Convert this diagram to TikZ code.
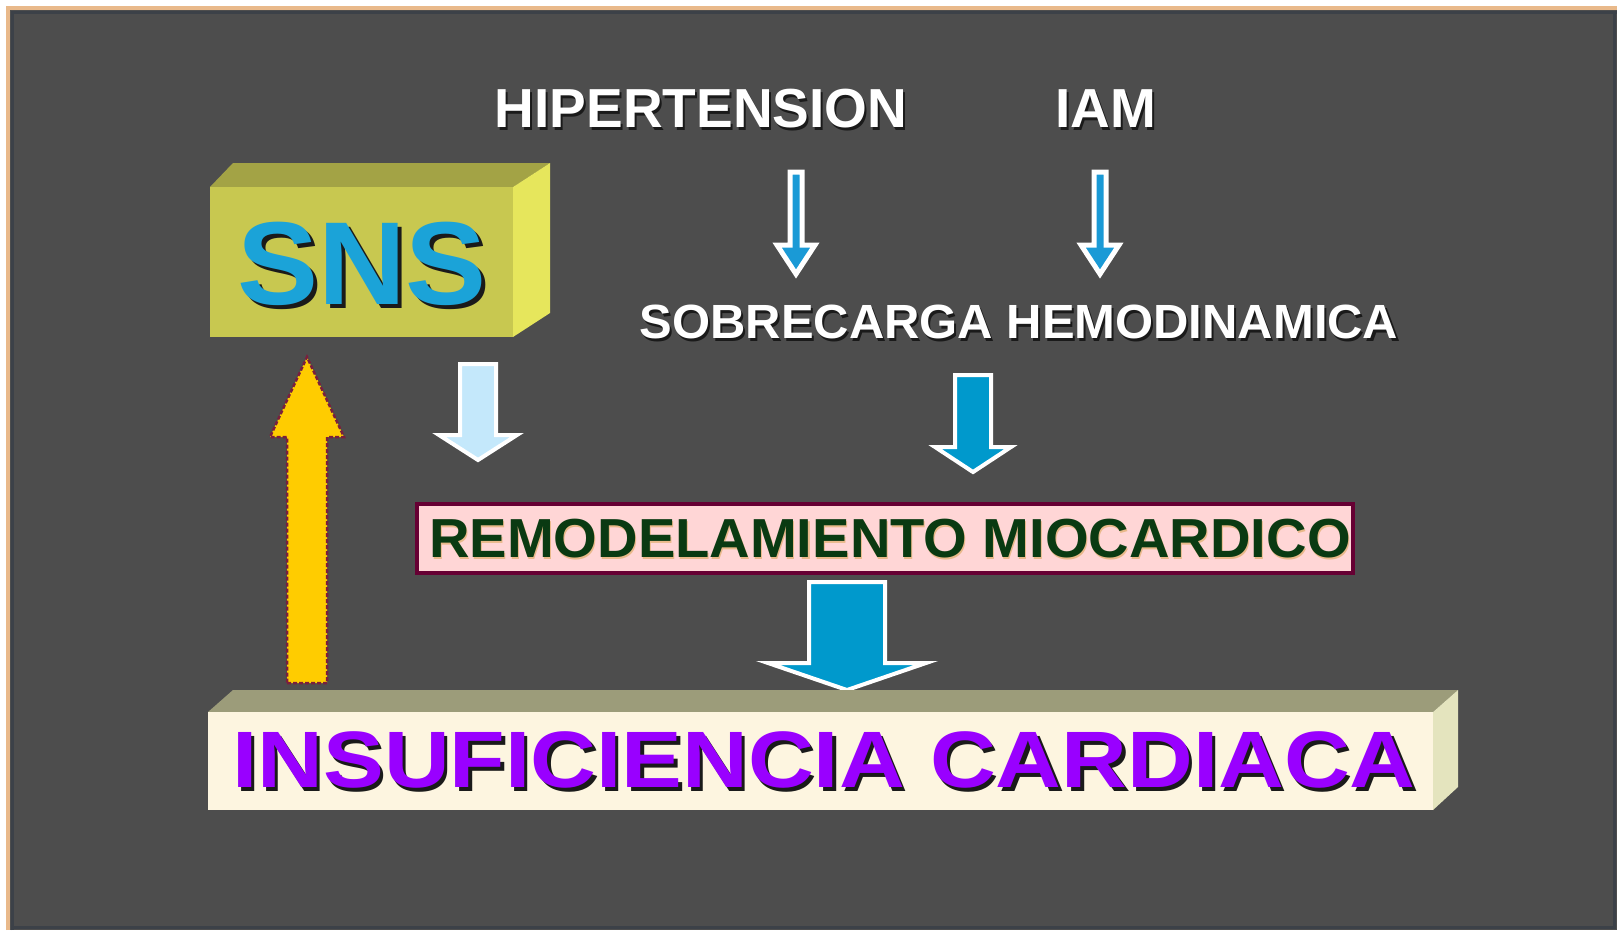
\documentclass[tikz,border=0pt]{standalone}
\usepackage{fontspec}
\setmainfont{Liberation Sans}
\usepackage{graphicx}
\definecolor{bggray}{HTML}{4D4D4D}
\definecolor{edgeorange}{HTML}{E9B98A}
\definecolor{edgedark}{HTML}{3C4148}
\definecolor{snsfront}{HTML}{C8C850}
\definecolor{snstop}{HTML}{A3A345}
\definecolor{snsright}{HTML}{E6E65C}
\definecolor{snsblue}{HTML}{1BA3D8}
\definecolor{thinblue}{HTML}{1A9AD6}
\definecolor{lightblue}{HTML}{C4E8FB}
\definecolor{midblue}{HTML}{0099CC}
\definecolor{arrowyellow}{HTML}{FFCC00}
\definecolor{arrowmaroon}{HTML}{7A1F3D}
\definecolor{remfill}{HTML}{FFD6D6}
\definecolor{remborder}{HTML}{660033}
\definecolor{remtext}{HTML}{0A3A12}
\definecolor{icfront}{HTML}{FDF5E0}
\definecolor{ictop}{HTML}{9C9C7A}
\definecolor{icright}{HTML}{E4E4BE}
\definecolor{icpurple}{HTML}{9900FF}
\definecolor{shadowdark}{HTML}{1A1A1A}
% shadowed text: dx, dy, shadow colour, colour, text
\newcommand\shtext[5]{\rlap{\kern#1pt\raisebox{-#2pt}{\color{#3}#5}}{\color{#4}#5}}
% block arrow: centre x, shaft half width, start y, head base y, head half width, tip y, style
\newcommand\blockarrowshape[7]{%
  \path[#7] ({#1-#2},#3) -- ({#1+#2},#3) -- ({#1+#2},#4) -- ({#1+#5},#4)
    -- (#1,#6) -- ({#1-#5},#4) -- ({#1-#2},#4) -- cycle;}
\tikzset{
  lbl/.style={inner sep=0pt, outer sep=0pt, anchor=base, font=\bfseries},
  thinarrow/.style={fill=thinblue, draw=white, line width=5pt, line join=miter},
  lightarrow/.style={fill=lightblue, draw=white, line width=4pt, line join=miter},
  bluearrow/.style={fill=midblue, draw=white, line width=4pt, line join=miter},
  yellowarrow/.style={fill=arrowyellow, draw=arrowmaroon, line width=2.5pt, dash pattern=on 4pt off 2pt, line join=miter},
}
\begin{document}
\begin{tikzpicture}[x=1pt,y=-1pt]
\useasboundingbox (0,0) rectangle (1617,930);
% page and frame
\fill[white] (0,0) rectangle (1617,930);
\fill[bggray] (6,6) rectangle (1617,930);
\draw[edgedark, line width=3pt] (12,930) -- (12,12) -- (1617,12);
\draw[edgedark, line width=3pt] (1614,12) -- (1614,927) -- (12,927);
\draw[edgeorange, line width=4pt] (8,930) -- (8,8) -- (1617,8);

% SNS box
\fill[snstop] (210,187) -- (233,163) -- (550,163) -- (513,187) -- cycle;
\fill[snsright] (513,187) -- (550,163) -- (550,313) -- (513,337) -- cycle;
\fill[snsfront] (210,187) rectangle (513,337);
\node[lbl, font=\bfseries\fontsize{118}{122}\selectfont] (sns) at (362,304)
  {\scalebox{1.03}[1]{\shtext{4}{4}{shadowdark}{snsblue}{SNS}}};

% top labels
\node[lbl, font=\bfseries\fontsize{55}{60}\selectfont] (hip) at (701,127)
  {\shtext{2}{3}{shadowdark}{white}{HIPERTENSION}};
\node[lbl, font=\bfseries\fontsize{55}{60}\selectfont] (iam) at (1106,127)
  {\shtext{2}{3}{shadowdark}{white}{IAM}};
\node[lbl, font=\bfseries\fontsize{48}{52}\selectfont] (sob) at (1019,338)
  {\scalebox{1.02}[1]{\shtext{2}{3}{shadowdark}{white}{SOBRECARGA HEMODINAMICA}}};

% thin arrows
\blockarrowshape{796}{6}{172}{245}{19}{274}{thinarrow}
\blockarrowshape{1100}{6}{172}{245}{19}{274}{thinarrow}

% arrows to remodelamiento
\blockarrowshape{478}{18}{364}{435}{39}{460}{lightarrow}
\blockarrowshape{973}{18}{375}{447}{38}{472}{bluearrow}

% remodelamiento box
\node[draw=remborder, fill=remfill, line width=4pt, minimum width=936pt, minimum height=69pt,
      inner sep=0pt] (remb) at (885,538.5) {};
\node[lbl, font=\bfseries\fontsize{55}{58}\selectfont] (rem) at (890,557)
  {\scalebox{1.02}[1]{\shtext{1}{2}{edgeorange}{remtext}{REMODELAMIENTO MIOCARDICO}}};

% big blue arrow
\blockarrowshape{847}{38}{582}{663}{79}{690}{bluearrow}

% yellow feedback arrow
\blockarrowshape{307}{20}{683}{437}{37}{357}{yellowarrow}

% insuficiencia box
\fill[ictop] (208,712) -- (233,690) -- (1458,690) -- (1433,712) -- cycle;
\fill[icright] (1433,712) -- (1458,690) -- (1458,787) -- (1433,810) -- cycle;
\fill[icfront] (208,712) rectangle (1433,810);
\node[lbl, font=\bfseries\fontsize{80}{84}\selectfont] (ic) at (824,787)
  {\scalebox{1.138}[1]{\shtext{3}{4}{shadowdark}{icpurple}{INSUFICIENCIA CARDIACA}}};
\end{tikzpicture}
\end{document}
